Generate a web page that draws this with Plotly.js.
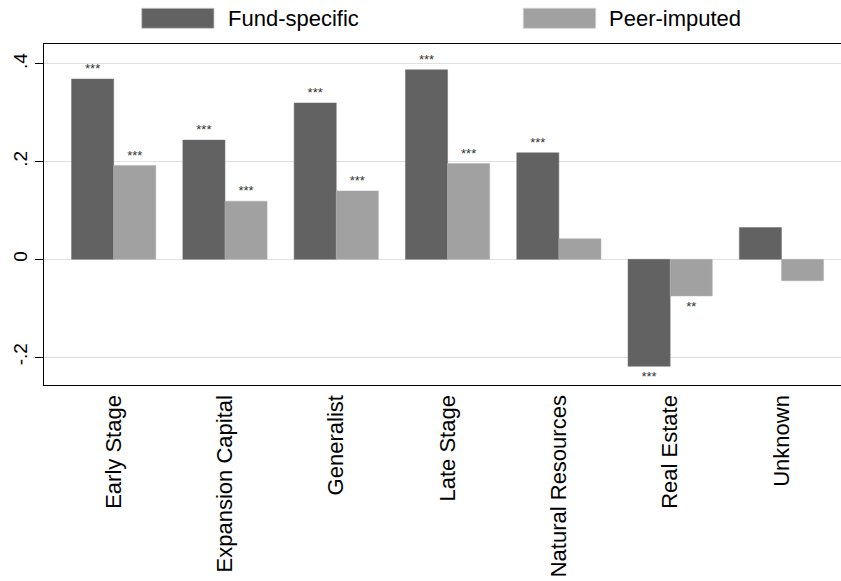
<!DOCTYPE html>
<html>
<head>
<meta charset="utf-8">
<script src="https://cdn.plot.ly/plotly-3.0.1.min.js"></script>
<style>html,body{margin:0;padding:0;background:#fff;}#chart{width:841px;height:581px;}</style>
</head>
<body>
<div id="chart"></div>
<script>
const categories = ["Early Stage", "Expansion Capital", "Generalist", "Late Stage", "Natural Resources", "Real Estate", "Unknown"];
const fundSpecific = [0.369, 0.244, 0.320, 0.388, 0.218, -0.219, 0.065];
const peerImputed = [0.192, 0.119, 0.140, 0.196, 0.042, -0.075, -0.044];
const fundStars = ["***", "***", "***", "***", "***", "***", ""];
const peerStars = ["***", "***", "***", "***", "", "**", ""];
const yTickVals = [-0.2, 0, 0.2, 0.4];
const yTickText = ["-.2", "0", ".2", ".4"];
const seriesNames = ["Fund-specific", "Peer-imputed"];

const darkGray = "#626262";
const lightGray = "#a1a1a1";
const font = "Liberation Sans, Arial, sans-serif";

const xIdx = categories.map((c, i) => i);

const traces = [
  {
    type: "bar", name: seriesNames[0], x: xIdx, y: fundSpecific,
    marker: {color: darkGray, line: {color: "#6e6e6e", width: 0.5}},
    text: fundStars, textposition: "outside", cliponaxis: false,
    textfont: {family: font, size: 13, color: "#333333"}, hoverinfo: "none"
  },
  {
    type: "bar", name: seriesNames[1], x: xIdx, y: peerImputed,
    marker: {color: lightGray, line: {color: "#b0b0b0", width: 0.5}},
    text: peerStars, textposition: "outside", cliponaxis: false,
    textfont: {family: font, size: 13, color: "#333333"}, hoverinfo: "none"
  }
];

const plotTop = 44, plotH = 581 - 44 - 196, plotL = 44, plotW = 841 - 44;
function py(pix) { return 1 + (plotTop - pix) / plotH; }
function px(pix) { return (pix - plotL) / plotW; }

const layout = {
  width: 841, height: 581,
  margin: {l: 44, r: 0, t: 44, b: 196},
  paper_bgcolor: "#ffffff", plot_bgcolor: "#ffffff",
  barmode: "group", bargap: 0.243, bargroupgap: 0,
  showlegend: false,
  font: {family: font, color: "#000"},
  xaxis: {
    range: [-0.626, 6.535], tickvals: xIdx, ticktext: categories,
    tickangle: -90, tickfont: {family: font, size: 22, color: "#000"},
    showline: true, linecolor: "#000", linewidth: 1.3, mirror: true,
    ticks: "", showgrid: false, zeroline: false, fixedrange: true
  },
  yaxis: {
    range: [-0.2573, 0.4407], tickvals: yTickVals, ticktext: yTickText,
    tickangle: -90, tickfont: {family: font, size: 19, color: "#000"},
    ticks: "outside", ticklen: 8, tickcolor: "#000", tickwidth: 1,
    showline: true, linecolor: "#000", linewidth: 1.3, mirror: false,
    showgrid: true, gridcolor: "#e0e0e0", gridwidth: 1,
    zeroline: true, zerolinecolor: "#e0e0e0", zerolinewidth: 1, fixedrange: true
  },
  shapes: [
    {type: "rect", xref: "paper", yref: "paper",
     x0: px(141.7), x1: px(214), y0: py(28.3), y1: py(8.3),
     fillcolor: darkGray, line: {color: "#c8c8c8", width: 0.8}},
    {type: "rect", xref: "paper", yref: "paper",
     x0: px(523.3), x1: px(595.7), y0: py(28.3), y1: py(8.3),
     fillcolor: lightGray, line: {color: "#d0d0d0", width: 0.8}}
  ],
  annotations: [
    {xref: "paper", yref: "paper", x: px(226), y: py(18.5), text: seriesNames[0],
     showarrow: false, xanchor: "left", yanchor: "middle",
     font: {family: font, size: 22, color: "#000"}},
    {xref: "paper", yref: "paper", x: px(607), y: py(18.5), text: seriesNames[1],
     showarrow: false, xanchor: "left", yanchor: "middle",
     font: {family: font, size: 22, color: "#000"}}
  ]
};

Plotly.newPlot("chart", traces, layout, {displayModeBar: false, staticPlot: true});
</script>
</body>
</html>
